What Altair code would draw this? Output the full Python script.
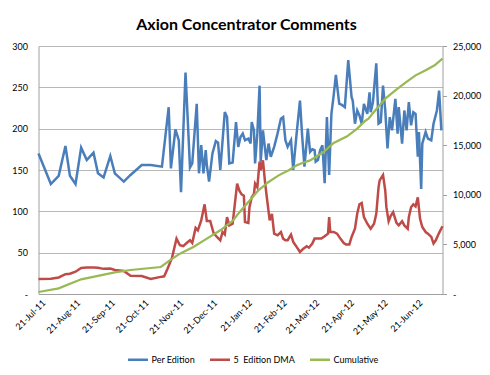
import altair as alt
import pandas as pd

TITLE = "Axion Concentrator Comments"
SERIES = ["Per Edition", "5\u00a0 Edition DMA", "Cumulative"]
COLORS = ["#4A7EBB", "#BE4B48", "#98B954"]

# Per Edition (left axis)
pe_dates = [
    "2011-07-21", "2011-08-01", "2011-08-08", "2011-08-14", "2011-08-18", "2011-08-23",
    "2011-08-28", "2011-09-02", "2011-09-08", "2011-09-12", "2011-09-17", "2011-09-23",
    "2011-09-27", "2011-10-05", "2011-10-11", "2011-10-21", "2011-10-29", "2011-11-08",
    "2011-11-14", "2011-11-16", "2011-11-20", "2011-11-23", "2011-11-25", "2011-11-29",
    "2011-12-03", "2011-12-05", "2011-12-09", "2011-12-11", "2011-12-13", "2011-12-15",
    "2011-12-17", "2011-12-18", "2011-12-20", "2011-12-23", "2011-12-26", "2011-12-28",
    "2011-12-30", "2012-01-03", "2012-01-05", "2012-01-07", "2012-01-10", "2012-01-13",
    "2012-01-15", "2012-01-17", "2012-01-19", "2012-01-21", "2012-01-24", "2012-01-26",
    "2012-01-27", "2012-01-29", "2012-01-30", "2012-02-01", "2012-02-03", "2012-02-04",
    "2012-02-06", "2012-02-08", "2012-02-09", "2012-02-11", "2012-02-13", "2012-02-16",
    "2012-02-19", "2012-02-22", "2012-02-24", "2012-02-26", "2012-02-28", "2012-03-02",
    "2012-03-04", "2012-03-07", "2012-03-10", "2012-03-12", "2012-03-14", "2012-03-17",
    "2012-03-19", "2012-03-21", "2012-03-23", "2012-03-24", "2012-03-26", "2012-03-28",
    "2012-03-30", "2012-04-01", "2012-04-03", "2012-04-05", "2012-04-07", "2012-04-09",
    "2012-04-11", "2012-04-14", "2012-04-16", "2012-04-19", "2012-04-22", "2012-04-25",
    "2012-04-26", "2012-04-28", "2012-04-30", "2012-05-02", "2012-05-04", "2012-05-06",
    "2012-05-09", "2012-05-11", "2012-05-12", "2012-05-14", "2012-05-17", "2012-05-19",
    "2012-05-21", "2012-05-23", "2012-05-25", "2012-05-27", "2012-05-29", "2012-05-31",
    "2012-06-03", "2012-06-05", "2012-06-06", "2012-06-09", "2012-06-11", "2012-06-13",
    "2012-06-15", "2012-06-17", "2012-06-19", "2012-06-21", "2012-06-23", "2012-06-24",
    "2012-06-26", "2012-06-27", "2012-06-30", "2012-07-02", "2012-07-05", "2012-07-07",
    "2012-07-10", "2012-07-12", "2012-07-14",
]
pe_values = [
    170, 133, 143, 179, 143, 133,
    177, 162, 171, 146, 141, 167,
    146, 136, 144, 156, 156, 154,
    226, 152, 199, 186, 123, 268,
    153, 158, 230, 146, 180, 146,
    174, 156, 136, 170, 185, 183,
    150, 220, 214, 158, 159, 208,
    178, 190, 194, 186, 188, 182,
    208, 198, 158, 194, 252, 160,
    198, 174, 162, 182, 166, 178,
    194, 212, 214, 186, 178, 186,
    150, 194, 234, 190, 154, 200,
    172, 175, 174, 160, 162, 174,
    180, 134, 214, 144, 218, 240,
    265, 230, 229, 226, 283, 238,
    234, 206, 222, 216, 206, 230,
    218, 244, 220, 232, 279, 206,
    208, 252, 222, 176, 214, 198,
    236, 194, 226, 182, 222, 198,
    232, 204, 220, 218, 166, 196,
    127, 182, 196, 188, 186, 206,
    222, 246, 198,
]

# 5 Edition DMA (left axis)
dma_dates = [
    "2011-07-21", "2011-08-01", "2011-08-08", "2011-08-14", "2011-08-18", "2011-08-23",
    "2011-08-28", "2011-09-02", "2011-09-08", "2011-09-12", "2011-09-17", "2011-09-23",
    "2011-09-27", "2011-10-05", "2011-10-11", "2011-10-21", "2011-10-29", "2011-11-08",
    "2011-11-10", "2011-11-13", "2011-11-17", "2011-11-21", "2011-11-24", "2011-11-27",
    "2011-11-30", "2011-12-03", "2011-12-05", "2011-12-08", "2011-12-10", "2011-12-13",
    "2011-12-16", "2011-12-18", "2011-12-21", "2011-12-24", "2011-12-27", "2011-12-30",
    "2012-01-01", "2012-01-03", "2012-01-05", "2012-01-07", "2012-01-10", "2012-01-14",
    "2012-01-16", "2012-01-18", "2012-01-20", "2012-01-21", "2012-01-24", "2012-01-25",
    "2012-01-27", "2012-01-29", "2012-01-30", "2012-02-01", "2012-02-03", "2012-02-04",
    "2012-02-06", "2012-02-08", "2012-02-10", "2012-02-12", "2012-02-14", "2012-02-16",
    "2012-02-19", "2012-02-22", "2012-02-24", "2012-02-26", "2012-02-28", "2012-03-02",
    "2012-03-04", "2012-03-07", "2012-03-10", "2012-03-13", "2012-03-16", "2012-03-18",
    "2012-03-21", "2012-03-23", "2012-03-27", "2012-03-29", "2012-04-01", "2012-04-04",
    "2012-04-05", "2012-04-06", "2012-04-09", "2012-04-12", "2012-04-15", "2012-04-18",
    "2012-04-20", "2012-04-23", "2012-04-25", "2012-04-28", "2012-04-30", "2012-05-02",
    "2012-05-04", "2012-05-06", "2012-05-09", "2012-05-12", "2012-05-15", "2012-05-17",
    "2012-05-19", "2012-05-20", "2012-05-23", "2012-05-25", "2012-05-26", "2012-05-28",
    "2012-05-30", "2012-06-01", "2012-06-04", "2012-06-06", "2012-06-09", "2012-06-11",
    "2012-06-14", "2012-06-15", "2012-06-17", "2012-06-19", "2012-06-21", "2012-06-23",
    "2012-06-25", "2012-06-27", "2012-06-30", "2012-07-02", "2012-07-05", "2012-07-07",
    "2012-07-09", "2012-07-12", "2012-07-15",
]
dma_values = [
    18, 18.5, 20, 24, 24.5, 27,
    31.5, 32, 32, 31.7, 30.4, 30.8,
    29, 27.8, 22, 21.8, 18.1, 21,
    21.4, 30.6, 44, 67, 59, 58,
    61.7, 65, 61.7, 80, 77, 89,
    108.5, 88.3, 88.3, 73.8, 69, 65,
    75, 72, 93, 83, 85, 133.5,
    125, 120.6, 119, 87, 86, 105,
    117, 121, 133.5, 129, 160, 149.6,
    161.7, 133.5, 111, 89, 97, 73,
    71, 75, 67, 65, 65, 71.8,
    63, 57, 50.8, 54.8, 57.7, 56,
    61, 67, 67, 67, 69.8, 73,
    93, 75, 75, 73, 67, 61.7,
    60, 60, 69, 79, 97, 108.5,
    110, 93, 85, 79, 85, 97,
    129, 137.5, 144, 125, 105, 88,
    95, 99, 86, 83, 88, 83,
    79, 93, 105, 108.5, 106, 117,
    91, 81, 75, 73, 69, 61,
    65, 74, 82,
]

# Cumulative (right axis)
cum_dates = [
    "2011-07-21", "2011-08-08", "2011-08-28", "2011-09-27", "2011-10-11", "2011-11-07",
    "2011-11-15", "2011-11-24", "2011-12-06", "2011-12-18", "2011-12-30", "2012-01-10",
    "2012-01-15", "2012-01-24", "2012-02-02", "2012-02-11", "2012-02-20", "2012-02-29",
    "2012-03-07", "2012-03-11", "2012-03-19", "2012-03-31", "2012-04-09", "2012-04-21",
    "2012-04-30", "2012-05-07", "2012-05-10", "2012-05-16", "2012-05-25", "2012-06-03",
    "2012-06-12", "2012-06-21", "2012-06-30", "2012-07-08", "2012-07-15",
]
cum_values = [
    200, 575, 1480, 2190, 2420, 2720,
    3390, 4070, 4740, 5580, 6420, 7360,
    8100, 9270, 10450, 11290, 11960, 12470,
    12970, 13150, 13470, 14310, 15220, 15890,
    16670, 17440, 17670, 18500, 19690, 20530,
    21300, 22040, 22550, 23050, 23720,
]

# x-axis tick labels (21st of each month)
tick_dates = [
    (2011, 7), (2011, 8), (2011, 9), (2011, 10), (2011, 11), (2011, 12),
    (2012, 1), (2012, 2), (2012, 3), (2012, 4), (2012, 5), (2012, 6),
]
left_ticks = [0, 50, 100, 150, 200, 250, 300]
right_ticks = [0, 5000, 10000, 15000, 20000, 25000]

FONT = "Lato"
GRID = "#b8b8b8"
AXISC = "#a0a0a0"

left_df = pd.concat([
    pd.DataFrame({"date": pe_dates, "value": pe_values, "series": SERIES[0]}),
    pd.DataFrame({"date": dma_dates, "value": dma_values, "series": SERIES[1]}),
], ignore_index=True)
cum_df = pd.DataFrame({"date": cum_dates, "value": cum_values, "series": SERIES[2]})

x_enc = alt.X(
    "date:T",
    title=None,
    scale=alt.Scale(
        type="utc",
        domain=[alt.DateTime(year=2011, month=7, date=21, utc=True),
                alt.DateTime(year=2012, month=7, date=15, utc=True)],
        nice=False,
    ),
    axis=alt.Axis(
        values=[alt.DateTime(year=y, month=m, date=21, utc=True) for y, m in tick_dates],
        format="%d-%b-%y",
        labelAngle=-45,
        labelAlign="right",
        labelBaseline="middle",
        labelPadding=7,
        labelOffset=5,
        tickSize=0,
        grid=False,
        domainColor=AXISC,
        labelFont=FONT,
        labelFontSize=9,
        labelColor="#000000",
        labelOverlap=False,
    ),
)

color_enc = alt.Color(
    "series:N",
    scale=alt.Scale(domain=SERIES, range=COLORS),
    legend=alt.Legend(
        title=None,
        orient="none",
        legendX=88,
        legendY=302,
        direction="horizontal",
        symbolType="stroke",
        symbolSize=400,
        symbolStrokeWidth=2.5,
        labelFont=FONT,
        labelFontSize=9,
        labelColor="#000000",
        labelOffset=2,
        columnPadding=9,
        padding=0,
    ),
)

left = alt.Chart(left_df).mark_line(strokeWidth=2.5).encode(
    x=x_enc,
    y=alt.Y(
        "value:Q",
        title=None,
        scale=alt.Scale(domain=[0, 300], nice=False),
        axis=alt.Axis(
            values=left_ticks,
            labelExpr="datum.value == 0 ? '-' : format(datum.value, ',')",
            grid=True,
            gridColor=GRID,
            domainColor=AXISC,
            tickColor=AXISC,
            tickSize=0,
            labelPadding=11,
            labelFont=FONT,
            labelFontSize=9,
            labelColor="#000000",
        ),
    ),
    color=color_enc,
)

right = alt.Chart(cum_df).mark_line(strokeWidth=2.25).encode(
    x=x_enc,
    y=alt.Y(
        "value:Q",
        title=None,
        scale=alt.Scale(domain=[0, 25000], nice=False),
        axis=alt.Axis(
            orient="right",
            values=right_ticks,
            labelExpr="datum.value == 0 ? '-' : format(datum.value, ',')",
            grid=False,
            domainColor=AXISC,
            tickColor=AXISC,
            tickSize=4,
            labelPadding=6,
            labelFont=FONT,
            labelFontSize=9,
            labelColor="#000000",
        ),
    ),
    color=color_enc,
)

chart = alt.layer(left, right).resolve_scale(y="independent").properties(
    width=404,
    height=248,
    autosize="none",
    padding={"left": 30.5, "top": 38, "right": 39, "bottom": 70},
    title=alt.Title(
        TITLE,
        font=FONT,
        fontSize=16,
        fontWeight="bold",
        color="#000000",
        anchor="middle",
        dx=6,
        offset=9,
    ),
).configure_view(stroke=None)

chart.save("out.html", embed_options={"renderer": "svg", "actions": False})
